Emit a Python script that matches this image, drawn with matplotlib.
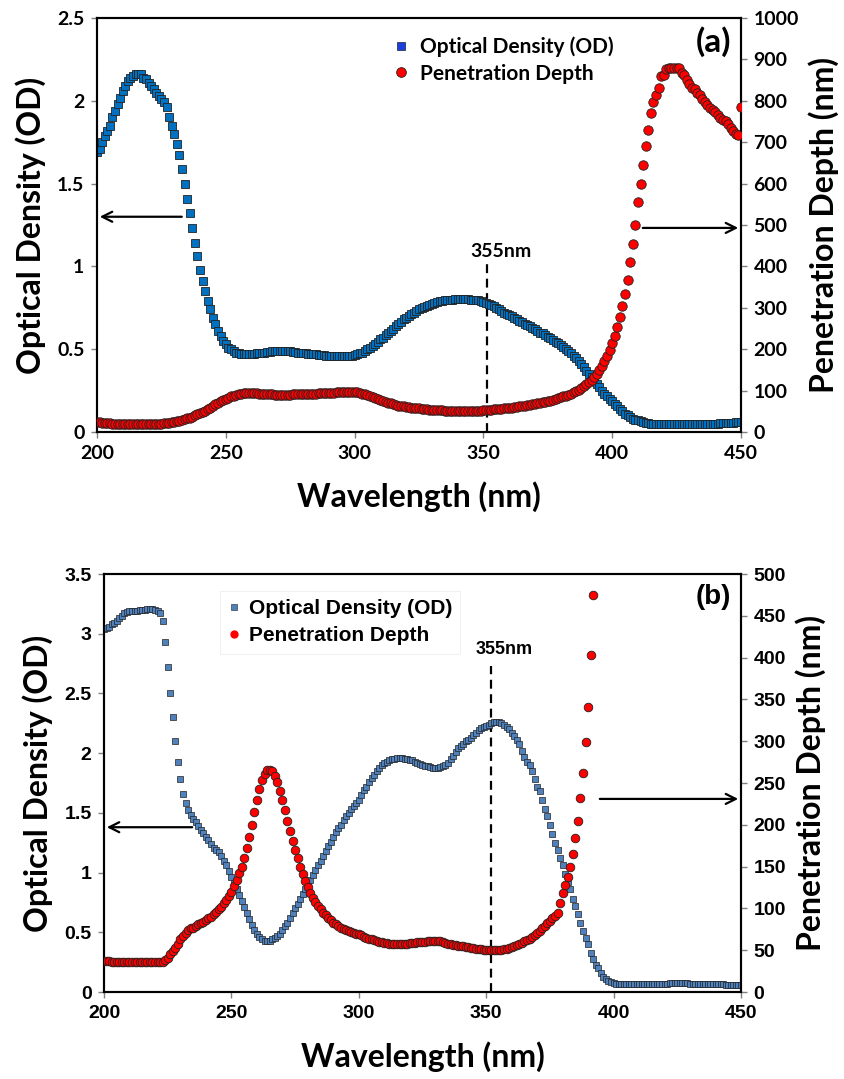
import numpy as np
import matplotlib
matplotlib.use("Agg")
import matplotlib.pyplot as plt
from matplotlib.lines import Line2D

# ---------------- data ----------------
wl = np.arange(200, 451)  # wavelength, nm (1 nm steps)

# panel (a)
od_a = [
    1.69, 1.71, 1.75, 1.79, 1.82, 1.85, 1.90, 1.94, 1.98, 2.02,
    2.06, 2.09, 2.12, 2.14, 2.15, 2.16, 2.16, 2.16, 2.14, 2.13,
    2.11, 2.09, 2.07, 2.05, 2.03, 2.01, 1.99, 1.96, 1.90, 1.85,
    1.80, 1.74, 1.67, 1.59, 1.50, 1.41, 1.32, 1.23, 1.14, 1.06,
    0.98, 0.91, 0.85, 0.79, 0.74, 0.69, 0.65, 0.61, 0.58, 0.55,
    0.53, 0.51, 0.50, 0.49, 0.48, 0.475, 0.47, 0.47, 0.47, 0.47,
    0.47, 0.47, 0.475, 0.48, 0.48, 0.48, 0.485, 0.485, 0.49, 0.49,
    0.49, 0.49, 0.49, 0.49, 0.49, 0.49, 0.485, 0.485, 0.48, 0.48,
    0.48, 0.475, 0.47, 0.47, 0.47, 0.47, 0.465, 0.465, 0.465, 0.46,
    0.46, 0.46, 0.46, 0.46, 0.46, 0.46, 0.46, 0.46, 0.46, 0.46,
    0.465, 0.47, 0.475, 0.48, 0.49, 0.50, 0.51, 0.52, 0.53, 0.545,
    0.56, 0.57, 0.585, 0.60, 0.61, 0.625, 0.64, 0.65, 0.665, 0.68,
    0.69, 0.70, 0.71, 0.72, 0.73, 0.74, 0.75, 0.755, 0.76, 0.77,
    0.775, 0.78, 0.785, 0.79, 0.79, 0.795, 0.80, 0.80, 0.80, 0.805,
    0.805, 0.805, 0.805, 0.805, 0.805, 0.80, 0.80, 0.80, 0.795, 0.79,
    0.785, 0.78, 0.775, 0.77, 0.76, 0.75, 0.74, 0.73, 0.72, 0.715,
    0.705, 0.70, 0.69, 0.68, 0.67, 0.665, 0.655, 0.645, 0.64, 0.63,
    0.62, 0.61, 0.60, 0.595, 0.585, 0.575, 0.565, 0.555, 0.545, 0.535,
    0.525, 0.515, 0.50, 0.49, 0.475, 0.46, 0.445, 0.43, 0.41, 0.39,
    0.37, 0.35, 0.33, 0.31, 0.29, 0.27, 0.25, 0.23, 0.215, 0.20,
    0.19, 0.17, 0.155, 0.14, 0.125, 0.11, 0.10, 0.09, 0.08, 0.075,
    0.07, 0.065, 0.06, 0.055, 0.055, 0.05, 0.05, 0.05, 0.05, 0.05,
    0.05, 0.05, 0.05, 0.05, 0.05, 0.05, 0.05, 0.05, 0.05, 0.05,
    0.05, 0.05, 0.05, 0.05, 0.05, 0.05, 0.05, 0.05, 0.05, 0.05,
    0.05, 0.05, 0.055, 0.055, 0.055, 0.055, 0.055, 0.055, 0.06, 0.06,
    0.06,
]
pd_a = [
    25, 24, 23, 22, 21, 21, 20, 20, 20, 20,
    20, 20, 20, 20, 20, 20, 20, 20, 20, 20,
    20, 20, 20, 20, 20, 20, 21, 22, 23, 24,
    25, 26, 27, 29, 31, 33, 35, 37, 40, 43,
    46, 49, 52, 55, 59, 63, 67, 70, 74, 77,
    80, 83, 86, 88, 90, 92, 93, 94, 94, 95,
    95, 94, 94, 93, 93, 92, 91, 91, 91, 90,
    90, 90, 90, 90, 90, 90, 91, 91, 91, 92,
    92, 92, 93, 93, 93, 93, 94, 94, 94, 95,
    95, 95, 95, 96, 96, 96, 96, 97, 97, 97,
    97, 96, 95, 93, 92, 90, 87, 85, 83, 80,
    78, 75, 73, 71, 69, 67, 66, 64, 63, 62,
    61, 60, 59, 58, 57, 57, 56, 55, 55, 54,
    54, 54, 53, 53, 53, 52, 52, 52, 51, 51,
    51, 51, 51, 51, 51, 51, 51, 52, 52, 52,
    53, 53, 54, 54, 55, 55, 56, 56, 57, 58,
    58, 59, 60, 61, 62, 63, 64, 65, 66, 67,
    68, 69, 70, 72, 73, 74, 76, 78, 80, 82,
    84, 86, 88, 90, 93, 96, 99, 102, 106, 110,
    115, 120, 125, 133, 141, 150, 160, 171, 184, 198,
    214, 233, 254, 278, 304, 333, 368, 410, 455, 500,
    555, 600, 645, 690, 729, 770, 798, 814, 831, 860,
    862, 878, 880, 880, 880, 880, 880, 868, 862, 850,
    840, 832, 828, 820, 814, 805, 798, 790, 782, 778,
    772, 765, 758, 754, 752, 745, 735, 728, 720, 717,
    785,
]

# panel (b)
od_b = [
    3.04, 3.05, 3.06, 3.08, 3.09, 3.11, 3.13, 3.15, 3.17, 3.18,
    3.19, 3.19, 3.19, 3.19, 3.20, 3.20, 3.20, 3.21, 3.21, 3.21,
    3.20, 3.19, 3.17, 3.11, 2.93, 2.72, 2.50, 2.30, 2.10, 1.93,
    1.78, 1.66, 1.58, 1.52, 1.48, 1.45, 1.42, 1.39, 1.36, 1.33,
    1.30, 1.27, 1.24, 1.21, 1.19, 1.17, 1.14, 1.10, 1.06, 1.01,
    0.96, 0.91, 0.86, 0.81, 0.76, 0.71, 0.66, 0.61, 0.56, 0.52,
    0.49, 0.46, 0.44, 0.43, 0.43, 0.43, 0.44, 0.45, 0.47, 0.49,
    0.52, 0.55, 0.58, 0.62, 0.66, 0.70, 0.74, 0.78, 0.82, 0.86,
    0.90, 0.94, 0.98, 1.02, 1.06, 1.10, 1.14, 1.18, 1.22, 1.26,
    1.30, 1.34, 1.37, 1.40, 1.44, 1.47, 1.50, 1.53, 1.56, 1.58,
    1.61, 1.65, 1.69, 1.72, 1.76, 1.79, 1.82, 1.85, 1.88, 1.90,
    1.92, 1.93, 1.94, 1.95, 1.955, 1.96, 1.96, 1.96, 1.955, 1.95,
    1.945, 1.94, 1.93, 1.92, 1.91, 1.90, 1.895, 1.89, 1.885, 1.88,
    1.88, 1.88, 1.885, 1.89, 1.90, 1.92, 1.95, 1.98, 2.01, 2.04,
    2.06, 2.08, 2.10, 2.11, 2.13, 2.15, 2.17, 2.19, 2.21, 2.22,
    2.23, 2.24, 2.25, 2.26, 2.26, 2.26, 2.25, 2.24, 2.22, 2.20,
    2.17, 2.14, 2.11, 2.08, 2.02, 1.97, 1.93, 1.90, 1.85, 1.78,
    1.72, 1.68, 1.61, 1.53, 1.47, 1.40, 1.32, 1.25, 1.19, 1.12,
    1.06, 0.99, 0.92, 0.86, 0.78, 0.72, 0.65, 0.58, 0.51, 0.45,
    0.40, 0.33, 0.28, 0.23, 0.20, 0.16, 0.13, 0.11, 0.095, 0.08,
    0.075, 0.07, 0.065, 0.065, 0.065, 0.065, 0.065, 0.065, 0.065, 0.065,
    0.065, 0.065, 0.065, 0.065, 0.07, 0.07, 0.07, 0.07, 0.07, 0.07,
    0.07, 0.07, 0.075, 0.075, 0.075, 0.075, 0.075, 0.075, 0.075, 0.075,
    0.07, 0.07, 0.07, 0.07, 0.07, 0.07, 0.07, 0.065, 0.065, 0.065,
    0.065, 0.065, 0.065, 0.065, 0.06, 0.06, 0.06, 0.06, 0.06, 0.06,
    0.06,
]
pd_b = [
    37, 37, 37, 36.5, 36.5, 36.5, 36, 36, 36, 36,
    36, 36, 36, 36, 35.5, 35.5, 35.5, 35.5, 35.5, 35.5,
    35.5, 35.5, 35.5, 36, 38, 41, 45, 49, 53, 58,
    63, 67, 71, 74, 76, 77, 79, 81, 82, 84,
    86, 88, 90, 93, 96, 99, 102, 106, 110, 115,
    120, 127, 134, 142, 150, 160, 172, 185, 200, 215,
    230, 243, 254, 261, 265, 266, 264, 259, 251, 241,
    230, 218, 205, 193, 181, 170, 160, 150, 141, 133,
    126, 119, 113, 108, 103, 99, 95, 92, 89, 86,
    83, 81, 79, 77, 75, 74, 73, 72, 71, 70,
    69, 68, 66, 65, 64, 63, 62, 61, 60, 59.5,
    59, 58.5, 58, 58, 57.5, 57.5, 57.5, 57.5, 57.5, 57.5,
    58.5, 59, 59, 59.5, 60, 60, 60, 60.5, 61, 61,
    61, 61, 60.5, 60, 59, 58, 57, 56.5, 56, 55.5,
    55, 54.5, 54, 53.5, 53, 52.5, 52, 51.5, 51, 50.5,
    50, 50, 50, 50, 50, 50, 50.5, 51, 52, 53,
    54, 55, 56, 57, 59, 61, 62, 64, 66, 68,
    71, 73, 76, 79, 82, 85, 88, 91, 95, 106,
    118, 128, 138, 149, 165, 184, 205, 232, 262, 299,
    341, 403, 475, np.nan, np.nan, np.nan, np.nan, np.nan, np.nan, np.nan,
] + [np.nan] * 51

xticks = [200, 250, 300, 350, 400, 450]

# ---------------- style ----------------
CAL = "Lato"
ARI = "Liberation Sans"
blue_a = "#0070C0"
blue_b = "#4F81BD"
red = "#FF0000"
edge = "#222222"

fig = plt.figure(figsize=(8.45, 10.79), dpi=100)

ax_a = fig.add_axes([0.1148, 0.5996, 0.7621, 0.3837])
ax_b = fig.add_axes([0.1231, 0.0806, 0.7538, 0.3874])


def style_axes(ax, ax2, tick_font, tick_size):
    for a in (ax, ax2):
        for s in a.spines.values():
            s.set_linewidth(1.5)
            s.set_color("black")
        a.tick_params(direction="out", length=4, width=1, color="#808080",
                      labelsize=tick_size, pad=5)
        for lab in a.get_xticklabels() + a.get_yticklabels():
            lab.set_fontfamily(tick_font)
            lab.set_fontweight("bold")


label_kw = dict(fontfamily=CAL, fontweight="bold", fontsize=23)

# ---------------- panel (a) ----------------
ax = ax_a
ax2 = ax.twinx()
ax.plot(wl, od_a, ls="none", marker="s", ms=6.3, mfc=blue_a, mec=edge, mew=0.6, zorder=3)
ax2.plot(wl, pd_a, ls="none", marker="o", ms=6.8, mfc=red, mec=edge, mew=0.6, zorder=3)
ax.set_xlim(200, 450)
ax.set_ylim(0, 2.5)
ax2.set_ylim(0, 1000)
ax.set_xticks(xticks)
ax.set_yticks([0, 0.5, 1, 1.5, 2, 2.5])
ax.set_yticklabels(["0", "0.5", "1", "1.5", "2", "2.5"])
ax2.set_yticks(np.arange(0, 1001, 100))
style_axes(ax, ax2, CAL, 14)
ax.set_xlabel("Wavelength (nm)", labelpad=14, **label_kw)
ax.set_ylabel("Optical Density (OD)", labelpad=8, **label_kw)
ax2.set_ylabel("Penetration Depth (nm)", labelpad=7, **label_kw)

ax.axvline(351.5, ymin=0, ymax=0.41, color="black", ls=(0, (4, 2.5)), lw=1.6)
ax.text(357, 1.04, "355nm", fontfamily=CAL, fontweight="bold", fontsize=14, ha="center", va="bottom")
ax.text(0.985, 0.98, "(a)", transform=ax.transAxes, fontfamily=CAL, fontweight="bold",
        fontsize=24, ha="right", va="top")
ax.annotate("", xy=(200, 1.30), xytext=(234, 1.30),
            arrowprops=dict(arrowstyle="->", lw=1.6, color="black", mutation_scale=18))
ax2.annotate("", xy=(450, 493), xytext=(410.8, 493),
             arrowprops=dict(arrowstyle="->", lw=1.6, color="black", mutation_scale=18))
h_a = [Line2D([], [], ls="none", marker="s", ms=6, mfc="#1a3ee0", mec=edge, mew=0.5),
       Line2D([], [], ls="none", marker="o", ms=7, mfc=red, mec=edge, mew=0.6)]
ax2.legend(h_a, ["Optical Density (OD)", "Penetration Depth"], loc="upper left",
           bbox_to_anchor=(0.43, 1.0), frameon=False, handlelength=0.8, handletextpad=0.5,
           labelspacing=0.3, prop=dict(family=CAL, weight="bold", size=15))

# ---------------- panel (b) ----------------
ax = ax_b
ax2 = ax.twinx()
ax.plot(wl, od_b, ls="none", marker="s", ms=4.6, mfc=blue_b, mec=edge, mew=0.5, zorder=3)
ax2.plot(wl, pd_b, ls="none", marker="o", ms=6.2, mfc=red, mec=edge, mew=0.6, zorder=3)
ax.set_xlim(200, 450)
ax.set_ylim(0, 3.5)
ax2.set_ylim(0, 500)
ax.set_xticks(xticks)
ax.set_yticks([0, 0.5, 1, 1.5, 2, 2.5, 3, 3.5])
ax.set_yticklabels(["0", "0.5", "1", "1.5", "2", "2.5", "3", "3.5"])
ax2.set_yticks(np.arange(0, 501, 50))
style_axes(ax, ax2, ARI, 14)
ax.set_xlabel("Wavelength (nm)", labelpad=14, **label_kw)
ax.set_ylabel("Optical Density (OD)", labelpad=8, **label_kw)
ax2.set_ylabel("Penetration Depth (nm)", labelpad=7, **label_kw)

ax.axvline(352, ymin=0, ymax=0.78, color="black", ls=(0, (4, 2.5)), lw=1.6)
ax.text(357, 2.8, "355nm", fontfamily=ARI, fontweight="bold", fontsize=13, ha="center", va="bottom")
ax.text(0.985, 0.975, "(b)", transform=ax.transAxes, fontfamily=ARI, fontweight="bold",
        fontsize=20, ha="right", va="top")
ax.annotate("", xy=(200, 1.38), xytext=(235.7, 1.38),
            arrowprops=dict(arrowstyle="->", lw=1.6, color="black", mutation_scale=18))
ax2.annotate("", xy=(450, 231), xytext=(393.5, 231),
             arrowprops=dict(arrowstyle="->", lw=1.6, color="black", mutation_scale=18))
h_b = [Line2D([], [], ls="none", marker="s", ms=5, mfc=blue_b, mec=edge, mew=0.4),
       Line2D([], [], ls="none", marker="o", ms=6, mfc=red, mec=red, mew=0)]
leg = ax2.legend(h_b, ["Optical Density (OD)", "Penetration Depth"], loc="upper left",
                 bbox_to_anchor=(0.165, 0.985), frameon=True, fancybox=False,
                 handlelength=0.6, handletextpad=0.4, labelspacing=0.4,
                 prop=dict(family=ARI, weight="bold", size=15))
leg.get_frame().set_edgecolor("#eeeeee")
leg.get_frame().set_linewidth(0.8)

fig.savefig("out.png", dpi=100)
